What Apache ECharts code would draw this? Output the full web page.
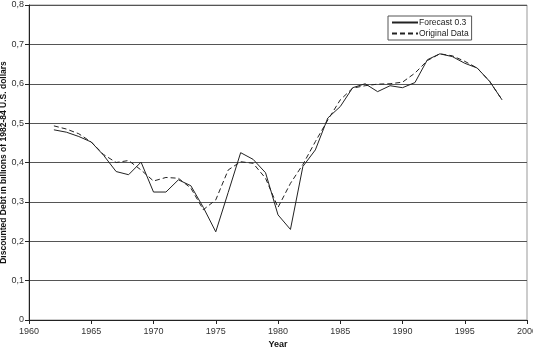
<!DOCTYPE html>
<html>
<head>
<meta charset="utf-8">
<script src="https://cdn.jsdelivr.net/npm/echarts@6/dist/echarts.min.js"></script>
<style>html,body{margin:0;padding:0;background:#fff}#c{width:533px;height:352px}</style>
</head>
<body>
<div id="c"></div>
<script>
const years = [1962,1963,1964,1965,1966,1967,1968,1969,1970,1971,1972,1973,1974,1975,1976,1977,1978,1979,1980,1981,1982,1983,1984,1985,1986,1987,1988,1989,1990,1991,1992,1993,1994,1995,1996,1997,1998];
const forecast = [0.483,0.477,0.466,0.452,0.418,0.377,0.369,0.401,0.325,0.325,0.356,0.341,0.286,0.224,0.324,0.425,0.408,0.374,0.267,0.230,0.390,0.432,0.513,0.542,0.590,0.600,0.580,0.595,0.590,0.603,0.661,0.676,0.669,0.652,0.640,0.606,0.559];
const original = [0.493,0.485,0.473,0.452,0.420,0.400,0.405,0.381,0.353,0.362,0.360,0.335,0.280,0.305,0.381,0.402,0.398,0.360,0.286,0.347,0.395,0.453,0.508,0.559,0.589,0.595,0.599,0.600,0.604,0.627,0.659,0.676,0.671,0.657,0.640,0.606,0.559];
const seriesNames = ['Forecast 0.3','Original Data'];
const xTitle = 'Year';
const yTitle = 'Discounted Debt in billions of 1982-84 U.S. dollars';

const chart = echarts.init(document.getElementById('c'));
const font = 'Liberation Sans, Arial, sans-serif';
chart.setOption({
  animation: false,
  backgroundColor: '#fff',
  grid: {left: 29, right: 6, top: 5, bottom: 32, show: true, borderColor: '#999', borderWidth: 1,
         containLabel: false, outerBoundsMode: 'none'},
  legend: {
    left: 388, top: 16, orient: 'vertical',
    data: seriesNames,
    backgroundColor: '#fff', borderColor: '#555', borderWidth: 1,
    padding: [2, 3, 2, 3], itemGap: 2, itemWidth: 26, itemHeight: 8,
    itemStyle: {opacity: 0},
    textStyle: {fontFamily: font, fontSize: 8.5, color: '#222', padding: [0,0,0,-4]}
  },
  xAxis: {
    type: 'value', min: 1960, max: 2000, interval: 5,
    name: xTitle, nameLocation: 'middle', nameGap: 20, nameMoveOverlap: false,
    nameTextStyle: {fontFamily: font, fontSize: 9, fontWeight: 'bold', color: '#111'},
    axisLine: {lineStyle: {color: '#222', width: 1}},
    axisTick: {show: true, length: 4, lineStyle: {color: '#222'}},
    axisLabel: {fontFamily: font, fontSize: 9, color: '#333', margin: 7, formatter: v => String(v)},
    splitLine: {show: false}
  },
  yAxis: {
    type: 'value', min: 0, max: 0.8, interval: 0.1,
    name: yTitle, nameLocation: 'middle', nameGap: 21, nameRotate: 90, nameMoveOverlap: false,
    nameTextStyle: {fontFamily: font, fontSize: 8.5, fontWeight: 'bold', color: '#111'},
    axisLine: {show: true, lineStyle: {color: '#222', width: 1}},
    axisTick: {show: true, length: 4, lineStyle: {color: '#222'}},
    axisLabel: {fontFamily: font, fontSize: 9, color: '#333', margin: 5,
      formatter: v => v === 0 ? '0' : v.toFixed(1).replace('.', ',')},
    splitLine: {show: true, lineStyle: {color: '#555', width: 1}}
  },
  series: [
    {name: seriesNames[0], type: 'line', showSymbol: false, symbol: 'none',
     data: years.map((y, i) => [y, forecast[i]]),
     lineStyle: {color: '#222', width: 1}, itemStyle: {color: '#222'}},
    {name: seriesNames[1], type: 'line', showSymbol: false, symbol: 'none',
     data: years.map((y, i) => [y, original[i]]),
     lineStyle: {color: '#222', width: 1, type: [5, 3]}, itemStyle: {color: '#222'}}
  ]
});
</script>
</body>
</html>
